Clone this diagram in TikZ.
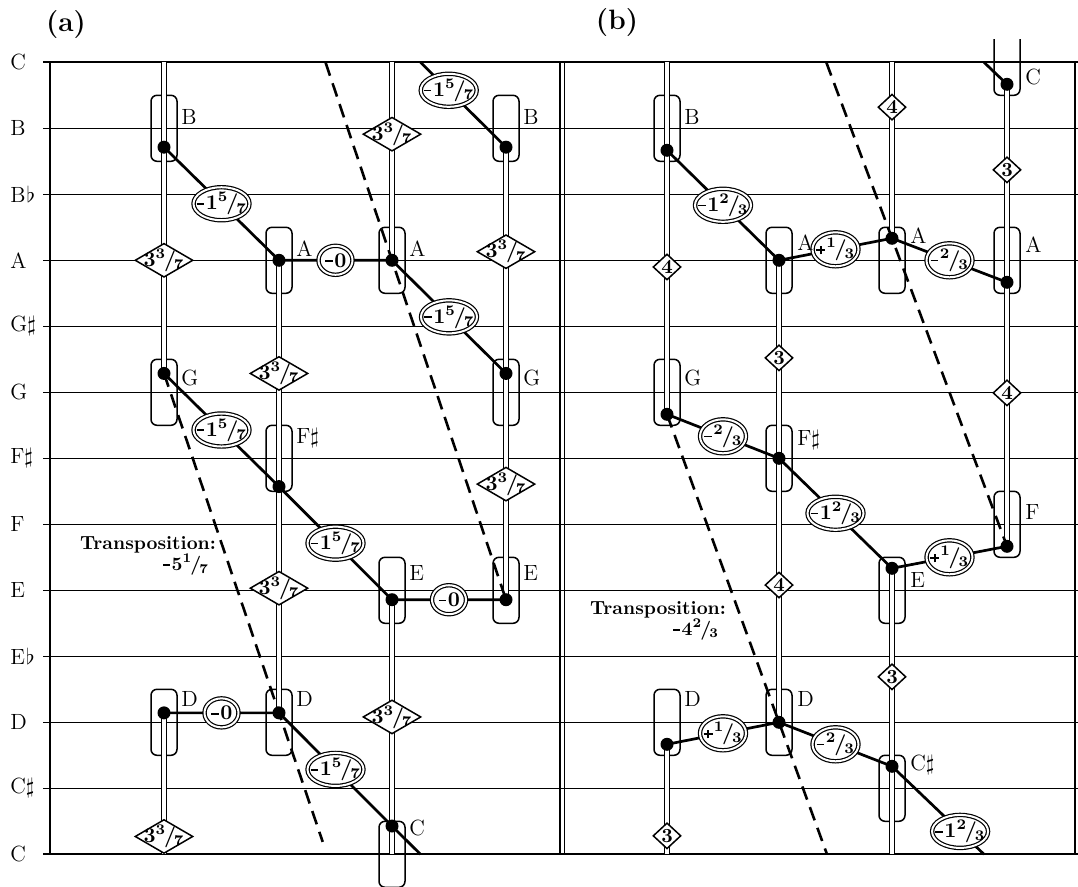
\documentclass[tikz,border=0pt]{standalone}
\usepackage{amsmath}
\usepackage{tikz}
\usetikzlibrary{positioning, calc, shapes.geometric}
\newcommand{\fr}[2]{\textsuperscript{#1}\kern-0.1em/\kern-0.1em\textsubscript{#2}}
\newcommand{\mi}{\kern0.02em\rule[0.24em]{0.36em}{0.085em}\kern0.08em}
\newcommand{\pl}{\kern0.02em\rule[0.22em]{0.42em}{0.085em}\kern-0.2525em\rule[0.0525em]{0.085em}{0.42em}\kern0.2275em}
\newcommand{\inbox}[1]{\makebox[0pt]{#1}}

\begin{document}
\begin{tikzpicture}[
    x=0.5pt, y=33pt,
    staffline/.style={line width=0.7pt},
    boundline/.style={line width=1.15pt},
    pitchname/.style={anchor=west, inner sep=0pt, font=\fontsize{11}{13}\selectfont},
    notename/.style={anchor=west, inner sep=0pt, font=\fontsize{11}{13}\selectfont},
    notebox/.style={draw, rounded corners=3pt, line width=0.75pt, minimum width=13pt, minimum height=33pt, inner sep=0pt},
    notedot/.style={circle, fill=black, inner sep=0pt, minimum size=6.5pt},
    voice/.style={double, line width=0.75pt, double distance=1.75pt},
    melody/.style={line width=1.35pt},
    transp/.style={line width=1.3pt, dash pattern=on 7pt off 4pt},
    bigstep/.style={diamond, draw, fill=white, line width=0.75pt, minimum width=29pt, minimum height=17pt, inner sep=0pt, font=\bfseries\fontsize{10.5}{12}\selectfont},
    smallstep/.style={diamond, draw, fill=white, line width=0.75pt, minimum width=14pt, minimum height=13pt, inner sep=0pt, font=\bfseries\fontsize{10}{11}\selectfont},
    devoval/.style={ellipse, draw, double, fill=white, line width=0.6pt, double distance=1pt, inner sep=0pt, font=\bfseries\fontsize{10.5}{12}\selectfont},
    ovalwide/.style={devoval, minimum width=28pt, minimum height=16.5pt},
    ovalzero/.style={devoval, minimum width=17pt, minimum height=14.5pt},
    ovalfrac/.style={devoval, minimum width=23pt, minimum height=17pt},
    transtext/.style={align=right, inner sep=0pt, font=\bfseries\fontsize{9.5}{10.5}\selectfont},
    panel/.style={inner sep=0pt, font=\bfseries\fontsize{14}{16}\selectfont}
]
\useasboundingbox (0,-0.4803) rectangle (1078,12.944);

% Staff
\draw[boundline] (43,12) -- (1078,12);
\draw[staffline] (43,11) -- (1078,11);
\draw[staffline] (43,10) -- (1078,10);
\draw[staffline] (43,9) -- (1078,9);
\draw[staffline] (43,8) -- (1078,8);
\draw[staffline] (43,7) -- (1078,7);
\draw[staffline] (43,6) -- (1078,6);
\draw[staffline] (43,5) -- (1078,5);
\draw[staffline] (43,4) -- (1078,4);
\draw[staffline] (43,3) -- (1078,3);
\draw[staffline] (43,2) -- (1078,2);
\draw[staffline] (43,1) -- (1078,1);
\draw[boundline] (43,0) -- (1078,0);
\draw[staffline] (50,0) -- (50,12);
\draw[staffline] (560,0) -- (560,12);
\draw[staffline] (564.5,0) -- (564.5,12);
\draw[staffline] (1075,0) -- (1075,12);

\node[pitchname] (pCtop) at (10,12) {C};
\node[pitchname] (pB) at (10,11) {B};
\node[pitchname] (pBb) at (10,10) {B\kern0.5pt$\flat$};
\node[pitchname] (pA) at (10,9) {A};
\node[pitchname] (pGs) at (10,8) {G$\sharp$};
\node[pitchname] (pG) at (10,7) {G};
\node[pitchname] (pFs) at (10,6) {F$\sharp$};
\node[pitchname] (pF) at (10,5) {F};
\node[pitchname] (pE) at (10,4) {E};
\node[pitchname] (pEb) at (10,3) {E\kern0.5pt$\flat$};
\node[pitchname] (pD) at (10,2) {D};
\node[pitchname] (pCs) at (10,1) {C$\sharp$};
\node[pitchname] (pCbot) at (10,0) {C};

\node[panel] (pana) at (66,12.565) {(a)};
\node[panel] (panb) at (617,12.6) {(b)};

% Notes (a)
\coordinate (a1B) at (164,{75/7});
\coordinate (a1G) at (164,{51/7});
\coordinate (a1D) at (164,{15/7});
\coordinate (a2A) at (279,9);
\coordinate (a2Fs) at (279,{39/7});
\coordinate (a2D) at (279,{15/7});
\coordinate (a3A) at (392,9);
\coordinate (a3E) at (392,{27/7});
\coordinate (a3C) at (392,{3/7});
\coordinate (a4B) at (506,{75/7});
\coordinate (a4G) at (506,{51/7});
\coordinate (a4E) at (506,{27/7});
\coordinate (a1top) at (164,12);
\coordinate (a1bot) at (164,0);
\coordinate (a3top) at (392,12);
\coordinate (a3bot) at (392,0);
\coordinate (a4Bin) at (420.5,12);
\coordinate (a3Cout) at (420.5,0);

% Notes (b)
\coordinate (b1B) at (667,{32/3});
\coordinate (b1G) at (667,{20/3});
\coordinate (b1D) at (667,{5/3});
\coordinate (b2A) at (779,9);
\coordinate (b2Fs) at (779,6);
\coordinate (b2D) at (779,2);
\coordinate (b3A) at (892,{28/3});
\coordinate (b3E) at (892,{13/3});
\coordinate (b3Cs) at (892,{4/3});
\coordinate (b4C) at (1007,{35/3});
\coordinate (b4A) at (1007,{26/3});
\coordinate (b4F) at (1007,{14/3});
\coordinate (b1top) at (667,12);
\coordinate (b1bot) at (667,0);
\coordinate (b3top) at (892,12);
\coordinate (b3bot) at (892,0);
\coordinate (b4Cin) at (984,12);
\coordinate (b3Csout) at (984,0);

% Boxes
\node[notebox] (a1Bbox) at (164,11) {};
\node[notebox] (a1Gbox) at (164,7) {};
\node[notebox] (a1Dbox) at (164,2) {};
\node[notebox] (a2Abox) at (279,9) {};
\node[notebox] (a2Fsbox) at (279,6) {};
\node[notebox] (a2Dbox) at (279,2) {};
\node[notebox] (a3Abox) at (392,9) {};
\node[notebox] (a3Ebox) at (392,4) {};
\node[notebox] (a3Cbox) at (392,0) {};
\node[notebox] (a4Bbox) at (506,11) {};
\node[notebox] (a4Gbox) at (506,7) {};
\node[notebox] (a4Ebox) at (506,4) {};
\node[notebox] (b1Bbox) at (667,11) {};
\node[notebox] (b1Gbox) at (667,7) {};
\node[notebox] (b1Dbox) at (667,2) {};
\node[notebox] (b2Abox) at (779,9) {};
\node[notebox] (b2Fsbox) at (779,6) {};
\node[notebox] (b2Dbox) at (779,2) {};
\node[notebox] (b3Abox) at (892,9) {};
\node[notebox] (b3Ebox) at (892,4) {};
\node[notebox] (b3Csbox) at (892,1) {};
\node[notebox] (b4Abox) at (1007,9) {};
\node[notebox] (b4Fbox) at (1007,5) {};
\draw[line width=0.75pt, rounded corners=3pt] (994,12.353) -- (994,11.5) -- (1020,11.5) -- (1020,12.353);

% Voices
\draw[voice] (a1top) -- (a1B) -- (a1G);
\draw[voice] (a1D) -- (a1bot);
\draw[voice] (a2A) -- (a2Fs) -- (a2D);
\draw[voice] (a3top) -- (a3A);
\draw[voice] (a3E) -- (a3C) -- (a3bot);
\draw[voice] (a4B) -- (a4G) -- (a4E);
\draw[voice] (b1top) -- (b1B) -- (b1G);
\draw[voice] (b1D) -- (b1bot);
\draw[voice] (b2A) -- (b2Fs) -- (b2D);
\draw[voice] (b3top) -- (b3A);
\draw[voice] (b3E) -- (b3Cs) -- (b3bot);
\draw[voice] (b4C) -- (b4A) -- (b4F);

% Transpositions
\draw[transp] (a1G) -- ($(a1G)!1.38!(a2D)$);
\draw[transp] ($(a3A)!-0.583!(a4E)$) -- (a4E);
\draw[transp] (b1G) -- ($(b1G)!1.4286!(b2D)$);
\draw[transp] ($(b3A)!-0.571!(b4F)$) -- (b4F);

% Melody with deviations
\draw[melody] (a4Bin) -- node[ovalwide, pos=0.33] (a0m) {\inbox{\mi1\fr{5}{7}}} (a4B);
\draw[melody] (a1B) -- node[ovalwide] (a1m) {\inbox{\mi1\fr{5}{7}}} (a2A) -- node[ovalzero] (a2m) {\inbox{\mi0}} (a3A) -- node[ovalwide] (a3m) {\inbox{\mi1\fr{5}{7}}} (a4G);
\draw[melody] (a1G) -- node[ovalwide] (a4m) {\inbox{\mi1\fr{5}{7}}} (a2Fs) -- node[ovalwide] (a5m) {\inbox{\mi1\fr{5}{7}}} (a3E) -- node[ovalzero] (a6m) {\inbox{\mi0}} (a4E);
\draw[melody] (a1D) -- node[ovalzero] (a7m) {\inbox{\mi0}} (a2D) -- node[ovalwide] (a8m) {\inbox{\mi1\fr{5}{7}}} (a3C) -- (a3Cout);

\draw[melody] (b4Cin) -- (b4C);
\draw[melody] (b1B) -- node[ovalwide] (b1m) {\inbox{\mi1\fr{2}{3}}} (b2A) -- node[ovalfrac] (b2m) {\inbox{\pl\fr{1}{3}}} (b3A) -- node[ovalfrac] (b3m) {\inbox{\mi\fr{2}{3}}} (b4A);
\draw[melody] (b1G) -- node[ovalfrac] (b4m) {\inbox{\mi\fr{2}{3}}} (b2Fs) -- node[ovalwide] (b5m) {\inbox{\mi1\fr{2}{3}}} (b3E) -- node[ovalfrac] (b6m) {\inbox{\pl\fr{1}{3}}} (b4F);
\draw[melody] (b1D) -- node[ovalfrac] (b7m) {\inbox{\pl\fr{1}{3}}} (b2D) -- node[ovalfrac] (b8m) {\inbox{\mi\fr{2}{3}}} (b3Cs) -- node[ovalwide, pos=0.74] (b9m) {\inbox{\mi1\fr{2}{3}}} (b3Csout);

% Steps
\node[bigstep] (a1s1) at ($(a1B)!0.5!(a1G)$) {\inbox{3\fr{3}{7}}};
\node[bigstep] (a1s2) at ($(a1D)!0.874!(a1bot)$) {\inbox{3\fr{3}{7}}};
\node[bigstep] (a2s1) at ($(a2A)!0.5!(a2Fs)$) {\inbox{3\fr{3}{7}}};
\node[bigstep] (a2s2) at ($(a2Fs)!0.449!(a2D)$) {\inbox{3\fr{3}{7}}};
\node[bigstep] (a3s1) at ($(a3top)!0.363!(a3A)$) {\inbox{3\fr{3}{7}}};
\node[bigstep] (a3s2) at ($(a3E)!0.518!(a3C)$) {\inbox{3\fr{3}{7}}};
\node[bigstep] (a4s1) at ($(a4B)!0.462!(a4G)$) {\inbox{3\fr{3}{7}}};
\node[bigstep] (a4s2) at ($(a4G)!0.489!(a4E)$) {\inbox{3\fr{3}{7}}};
\node[smallstep] (b1s1) at ($(b1B)!0.442!(b1G)$) {4};
\node[smallstep] (b1s2) at ($(b1D)!0.832!(b1bot)$) {3};
\node[smallstep] (b2s1) at ($(b2A)!0.493!(b2Fs)$) {3};
\node[smallstep] (b2s2) at ($(b2Fs)!0.48!(b2D)$) {4};
\node[smallstep] (b3s1) at ($(b3top)!0.255!(b3A)$) {4};
\node[smallstep] (b3s2) at ($(b3E)!0.548!(b3Cs)$) {3};
\node[smallstep] (b4s1) at ($(b4C)!0.432!(b4A)$) {3};
\node[smallstep] (b4s2) at ($(b4A)!0.419!(b4F)$) {4};

% Dots
\node[notedot] (a1Bdot) at (a1B) {};
\node[notedot] (a1Gdot) at (a1G) {};
\node[notedot] (a1Ddot) at (a1D) {};
\node[notedot] (a2Adot) at (a2A) {};
\node[notedot] (a2Fsdot) at (a2Fs) {};
\node[notedot] (a2Ddot) at (a2D) {};
\node[notedot] (a3Adot) at (a3A) {};
\node[notedot] (a3Edot) at (a3E) {};
\node[notedot] (a3Cdot) at (a3C) {};
\node[notedot] (a4Bdot) at (a4B) {};
\node[notedot] (a4Gdot) at (a4G) {};
\node[notedot] (a4Edot) at (a4E) {};
\node[notedot] (b1Bdot) at (b1B) {};
\node[notedot] (b1Gdot) at (b1G) {};
\node[notedot] (b1Ddot) at (b1D) {};
\node[notedot] (b2Adot) at (b2A) {};
\node[notedot] (b2Fsdot) at (b2Fs) {};
\node[notedot] (b2Ddot) at (b2D) {};
\node[notedot] (b3Adot) at (b3A) {};
\node[notedot] (b3Edot) at (b3E) {};
\node[notedot] (b3Csdot) at (b3Cs) {};
\node[notedot] (b4Cdot) at (b4C) {};
\node[notedot] (b4Adot) at (b4A) {};
\node[notedot] (b4Fdot) at (b4F) {};

% Note names
\node[notename] (a1Bname) at (181,11.17) {B};
\node[notename] (a1Gname) at (181,7.22) {G};
\node[notename] (a1Dname) at (181,2.36) {D};
\node[notename] (a2Aname) at (296,9.18) {A};
\node[notename] (a2Fsname) at (296,6.31) {F$\sharp$};
\node[notename] (a2Dname) at (296,2.36) {D};
\node[notename] (a3Aname) at (409,9.18) {A};
\node[notename] (a3Ename) at (409,4.26) {E};
\node[notename] (a3Cname) at (409,0.40) {C};
\node[notename] (a4Bname) at (523,11.17) {B};
\node[notename] (a4Gname) at (523,7.22) {G};
\node[notename] (a4Ename) at (523,4.26) {E};
\node[notename] (b1Bname) at (684,11.17) {B};
\node[notename] (b1Gname) at (684,7.22) {G};
\node[notename] (b1Dname) at (684,2.36) {D};
\node[notename] (b2Aname) at (797,9.26) {A};
\node[notename] (b2Fsname) at (797,6.27) {F$\sharp$};
\node[notename] (b2Dname) at (797,2.36) {D};
\node[notename] (b3Aname) at (910,9.38) {A};
\node[notename] (b3Ename) at (910,4.16) {E};
\node[notename] (b3Csname) at (910,1.35) {C$\sharp$};
\node[notename] (b4Cname) at (1025,11.78) {C};
\node[notename] (b4Aname) at (1025,9.23) {A};
\node[notename] (b4Fname) at (1025,5.19) {F};

\node[transtext] (transa) at (148,4.52) {Transposition:\\\mi5\fr{1}{7}\kern3.5pt};
\node[transtext] (transb) at (658,3.54) {Transposition:\\\mi4\fr{2}{3}\kern3.5pt};
\end{tikzpicture}
\end{document}
